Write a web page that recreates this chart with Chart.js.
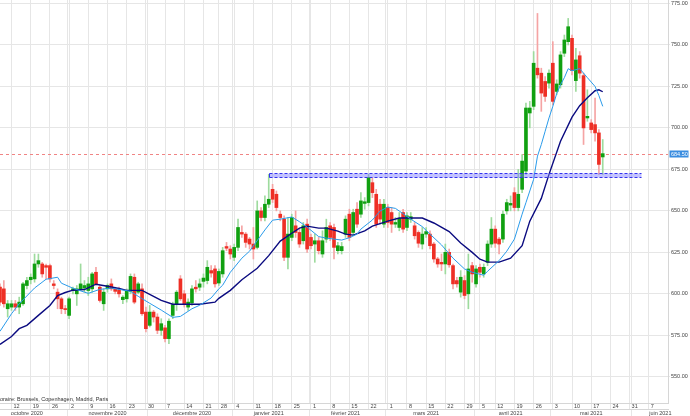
<!DOCTYPE html>
<html>
<head>
<meta charset="utf-8">
<script src="https://cdn.jsdelivr.net/npm/chart.js@4.4.0/dist/chart.umd.min.js"></script>
<style>
  html, body { margin: 0; padding: 0; background: #fff; }
  #wrap { width: 690px; height: 416px; }
</style>
</head>
<body>
<div id="wrap"><canvas id="chart"></canvas></div>
<script>
// séances (jours de bourse) du 7 oct. 2020 au 14 juin 2021
var firstDay = "2020-10-07";
var lastDay = "2021-06-14";
var holidays = ["2020-12-25", "2021-01-01", "2021-04-02", "2021-04-05"];

// cours journaliers (ouverture, plus haut, plus bas, clôture)
var opens = [
  604, 603, 591, 592, 594, 592, 594, 605, 608.5, 609,
  618, 618, 617, 617, 606, 601, 597, 591, 587, 602,
  600, 603, 603.5, 602, 603, 613, 604, 594, 603, 606,
  603, 602.5, 596.5, 597, 601.5, 610, 601, 603, 589, 581,
  589, 586, 578, 579.5, 573, 587, 594, 609, 600, 592,
  594.5, 604, 604, 607.5, 608, 614, 615, 606.5, 612, 628.5,
  627, 622, 628, 637, 636, 633, 630, 628, 650, 646,
  654, 663, 660, 648, 645, 622, 634, 641, 637, 632,
  642, 634, 630, 632, 624, 633, 641, 640, 626, 626,
  636, 648, 637, 651, 648, 654.5, 655, 667, 660, 654,
  642, 652, 649, 642, 640, 649, 640, 645, 641, 637,
  630, 636, 636, 630, 621, 619, 618, 625, 617, 608,
  601, 608, 600, 617, 606, 616, 612, 619, 630, 639,
  633, 633, 650, 653.5, 661, 652, 663, 674, 709, 713,
  736, 733, 728, 727, 739, 722, 726, 745, 752, 754,
  728.5, 743.5, 731.5, 706, 703, 702, 697, 682.5
];
var highs = [
  606, 608, 596, 596, 596, 598, 607, 610, 612, 624,
  624, 619, 618, 618, 608, 603, 598, 593, 598, 604,
  605, 618, 608, 610, 613, 616, 605, 603, 606, 609,
  604, 604, 599, 603, 612, 612, 607, 606, 592, 593,
  590, 588, 585, 581, 585, 595, 602, 611, 602, 597,
  605, 608, 609, 612, 620, 617, 617, 615, 628, 631,
  629, 630, 645, 641, 637, 634, 640, 656, 652, 659,
  672, 666, 662, 650, 647, 646, 648, 650, 639, 643,
  645, 636, 636, 634, 638, 645, 643, 642, 631, 631,
  647, 651, 651, 655, 661, 658, 672, 670, 663, 657,
  657, 654, 652, 646, 649, 651, 649, 649, 643, 638,
  640, 640, 638, 631, 622, 624, 630, 627, 618, 610,
  614, 611, 624, 619, 617, 618, 618, 632, 646, 641,
  634, 650, 657, 659, 664, 675, 684, 715, 716, 746,
  769, 736, 731, 735, 752, 729, 746, 756, 766, 756,
  748, 746, 733, 723, 705, 718, 699, 693
];
var lows = [
  593, 592, 586, 590, 590, 588, 593, 603, 606, 607,
  616, 610, 609, 607, 603, 591, 588, 588, 585, 600,
  593, 602, 601, 599, 601, 605, 595, 590, 601, 602,
  600, 598, 594, 595, 600, 594, 600, 587, 577, 580,
  583, 576, 575, 571, 570, 585, 590, 596, 592, 590,
  593, 601, 602, 604, 606, 610, 604, 605, 610, 626,
  621, 620, 626, 634, 628, 627, 621, 627, 644, 644,
  652, 655, 650, 644, 620, 615, 632, 634, 628, 630,
  625, 627, 619, 624, 622, 631, 632, 621, 624, 624,
  634, 632, 635, 640, 646, 651, 653, 658, 640, 642,
  640, 640, 637, 640, 638, 637, 638, 643, 633, 628,
  627, 634, 627, 619, 616, 614, 612, 616, 603, 604,
  598, 597, 591, 607, 604, 610, 610, 617, 628, 628,
  624, 631, 648, 650, 650, 650, 661, 672, 700, 711,
  730, 710, 716, 724, 714, 720, 724, 743, 750, 732,
  722, 730, 690, 704, 697, 692, 672, 672
];
var closes = [
  595, 594, 594, 594, 592, 595, 606, 608, 610, 618,
  620, 612, 616, 609, 605, 597, 591, 590.5, 597, 603,
  603, 606, 605, 606, 612, 606, 596, 601, 605, 603,
  601.5, 600, 598, 601.5, 610.5, 595, 606, 588, 579, 589,
  586, 578, 582, 573, 583.5, 593.5, 601, 597, 594, 595,
  603, 603, 606, 609.5, 616, 612.5, 606, 613.5, 626, 627.5,
  624, 628, 640, 636, 631, 630, 627, 650, 646, 654,
  657, 657, 652, 646, 622, 636, 646, 637, 630, 641,
  627, 629, 632, 626, 632, 640, 634, 628, 629, 628.5,
  645, 634, 649, 642, 656, 655.5, 670, 661, 642, 645,
  654, 643, 642, 643, 645.5, 639, 647, 646.5, 635, 630.5,
  636, 637.5, 629, 621, 618, 618, 625, 617.5, 606, 606,
  610, 599, 615, 612, 615, 613, 616, 630, 639, 630.5,
  630, 648, 655, 654.5, 652, 660, 680, 712, 712, 739,
  732, 721, 719, 733, 716, 726.5, 744, 753, 761, 734.5,
  741, 733, 700, 707, 699, 697, 678, 684.5
];

// moyennes mobiles : [n° de séance, valeur]
var maCourte = [
  [0, 577.4], [3, 588], [5, 594], [9, 603.5], [12, 608.8], [15, 610], [16, 606.4], [19, 603.4],
  [22, 601], [23, 600.3], [26, 602.7], [29, 603.4], [31, 602.7], [34, 601.5], [36, 598.5], [39, 594.3],
  [42, 590.2], [45, 585.8], [47, 586.4], [50, 591], [52, 593.1], [55, 597.5], [57, 603], [58, 605.2],
  [60, 613], [63, 621.5], [65, 625.7], [69, 638.5], [71, 644.4], [73, 645], [76, 646.3], [78, 643.5],
  [80, 640.2], [83, 634.5], [85, 633.6], [89, 632.4], [91, 633.8], [93, 636], [94, 639], [97, 644.5],
  [99, 649.9], [101, 652.3], [103, 651.5], [104, 649.9], [107, 645], [110, 640.5], [112, 636], [115, 629.5],
  [118, 621.5], [121, 615], [123, 613], [126, 611.2], [127, 613.6], [130, 620], [132, 625.7], [134, 633],
  [136, 648], [137, 655], [139, 669], [140, 683], [141, 690], [142, 698], [143, 706], [144, 713],
  [145, 720.6], [146, 726], [147, 730.3], [148, 735.7], [149, 734.5], [151, 735.7], [153, 730.3], [155, 725],
  [156, 719.5], [157, 713]
];
var maLongue = [
  [0, 569.5], [3, 574.3], [5, 579], [7, 581], [10, 587], [13, 593], [15, 599], [17, 600.8],
  [19, 602.2], [22, 602.6], [25, 605.8], [28, 604.6], [31, 603.2], [33, 602.1], [37, 602.1], [40, 598.5],
  [42, 596], [45, 593.7], [49, 593.7], [52, 593.7], [56, 595], [57, 597.3], [60, 602.1], [63, 608.5],
  [67, 615.4], [70, 623], [73, 631.8], [76, 636.5], [78, 639.6], [80, 640.8], [83, 639.6], [85, 639.6],
  [88, 637.8], [90, 636], [92, 635.4], [95, 638], [97, 640.8], [101, 643.8], [104, 645.7], [110, 645.7],
  [113, 642.7], [117, 637.5], [120, 630.6], [123, 625], [125, 620.9], [127, 619.1], [130, 619.1], [133, 621.5],
  [136, 629], [138, 643.8], [141, 657.5], [143, 672], [146, 692], [149, 706.5], [151, 713.4], [153, 718.2],
  [155, 722.4], [156, 723], [157, 721.8]
];

// zone de support et dernier cours
var zoneFrom = "2021-01-15";
var zoneTo = "2021-06-03";
var zoneLow = 670.2;
var zoneHigh = 672.6;
var lastPrice = closes[closes.length - 1];

// étiquettes de l'axe du temps
var weekLabels = [
  ["2020-10-12", "12"], ["2020-10-19", "19"], ["2020-10-26", "26"], ["2020-11-02", "2"],
  ["2020-11-09", "9"], ["2020-11-16", "16"], ["2020-11-23", "23"], ["2020-11-30", "30"],
  ["2020-12-07", "7"], ["2020-12-14", "14"], ["2020-12-21", "21"], ["2020-12-28", "28"],
  ["2021-01-04", "4"], ["2021-01-11", "11"], ["2021-01-18", "18"], ["2021-01-25", "25"],
  ["2021-02-01", "1"], ["2021-02-08", "8"], ["2021-02-15", "15"], ["2021-02-22", "22"],
  ["2021-03-01", "1"], ["2021-03-08", "8"], ["2021-03-15", "15"], ["2021-03-22", "22"],
  ["2021-03-29", "29"], ["2021-04-06", "5"], ["2021-04-12", "12"], ["2021-04-19", "19"],
  ["2021-04-26", "26"], ["2021-05-03", "3"], ["2021-05-10", "10"], ["2021-05-17", "17"],
  ["2021-05-24", "24"], ["2021-05-31", "31"], ["2021-06-07", "7"]
];
var monthLabels = [
  ["2020-10-16", "octobre 2020"], ["2020-11-16", "novembre 2020"], ["2020-12-16", "décembre 2020"],
  ["2021-01-15", "janvier 2021"], ["2021-02-12", "février 2021"], ["2021-03-15", "mars 2021"],
  ["2021-04-16", "avril 2021"], ["2021-05-17", "mai 2021"], ["2021-06-10", "juin 2021"]
];
var monthStarts = ["2020-11-02", "2020-12-01", "2021-01-04", "2021-02-01", "2021-03-01",
  "2021-04-01", "2021-05-03", "2021-06-01"];
var note = "Horaire: Brussels, Copenhagen, Madrid, Paris";

function tradingDays(from, to) {
  var out = [];
  var d = new Date(from + "T12:00:00Z");
  var end = new Date(to + "T12:00:00Z");
  while (d <= end) {
    var s = d.toISOString().slice(0, 10);
    var wd = d.getUTCDay();
    if (wd !== 0 && wd !== 6 && holidays.indexOf(s) < 0) out.push(s);
    d.setUTCDate(d.getUTCDate() + 1);
  }
  return out;
}
var days = tradingDays(firstDay, lastDay);

var weekText = {}, monthText = {}, monthIdx = {};
weekLabels.forEach(function (w) { weekText[days.indexOf(w[0])] = w[1]; });
monthLabels.forEach(function (m) { monthText[days.indexOf(m[0])] = m[1]; });
monthStarts.forEach(function (m) { monthIdx[days.indexOf(m)] = true; });

var upBody = "#10a010", upWick = "#9edb9e", downBody = "#ee2f25", downWick = "#f5a4a4";
var gridColor = "#e6e6e6";
var none = "rgba(0,0,0,0)";
var font = { family: "'Liberation Sans', Arial, sans-serif", size: 5.5 };

var bodies = [], wicks = [], bodyColors = [], wickColors = [];
days.forEach(function (d, i) {
  if (i < closes.length) {
    var up = closes[i] >= opens[i];
    bodies.push([opens[i], closes[i]]);
    wicks.push([lows[i], highs[i]]);
    bodyColors.push(up ? upBody : downBody);
    wickColors.push(up ? upWick : downWick);
  } else {
    bodies.push(null); wicks.push(null);
    bodyColors.push(none); wickColors.push(none);
  }
});
function toPoints(list) {
  return list.map(function (p) { return { x: days[p[0]], y: p[1] }; });
}

var decor = {
  id: "decor",
  beforeDatasetsDraw: function (chart) {
    var ctx = chart.ctx, a = chart.chartArea;
    var py = Math.round(chart.scales.y.getPixelForValue(lastPrice)) + 0.5;
    ctx.save();
    ctx.strokeStyle = "#f08484";
    ctx.lineWidth = 1;
    ctx.setLineDash([3, 3]);
    ctx.beginPath(); ctx.moveTo(a.left, py); ctx.lineTo(a.right, py); ctx.stroke();
    ctx.restore();
  },
  afterDatasetsDraw: function (chart) {
    var ctx = chart.ctx, x = chart.scales.x, y = chart.scales.y;
    var x0 = Math.round(x.getPixelForValue(days.indexOf(zoneFrom))) + 0.5;
    var x1 = Math.round(x.getPixelForValue(days.indexOf(zoneTo))) + 0.5;
    var yTop = Math.round(y.getPixelForValue(zoneHigh)) + 0.5;
    var yBot = Math.round(y.getPixelForValue(zoneLow)) + 0.5;
    ctx.save();
    ctx.fillStyle = "rgba(120,120,255,0.45)";
    ctx.fillRect(x0, yTop, x1 - x0, yBot - yTop);
    ctx.strokeStyle = "#3434f0";
    ctx.lineWidth = 1;
    ctx.setLineDash([3, 2]);
    ctx.beginPath();
    ctx.moveTo(x0, yTop); ctx.lineTo(x1, yTop);
    ctx.moveTo(x0, yBot); ctx.lineTo(x1, yBot);
    ctx.stroke();
    ctx.setLineDash([]);
    ctx.beginPath(); ctx.moveTo(x0, yTop); ctx.lineTo(x0, yBot); ctx.stroke();
    ctx.restore();
  },
  afterDraw: function (chart) {
    var ctx = chart.ctx, a = chart.chartArea;
    var py = chart.scales.y.getPixelForValue(lastPrice);
    ctx.save();
    ctx.fillStyle = "#3a8de0";
    ctx.fillRect(a.right + 1.5, Math.round(py) - 3.5, 19, 7);
    ctx.fillStyle = "#ffffff";
    ctx.font = "5.5px 'Liberation Sans', Arial, sans-serif";
    ctx.textBaseline = "middle";
    ctx.fillText(lastPrice.toFixed(2), a.right + 3, Math.round(py));
    ctx.fillStyle = "#333333";
    ctx.textBaseline = "bottom";
    ctx.fillText(note, -4, a.bottom - 1);
    ctx.restore();
  }
};

var ctx = document.getElementById("chart").getContext("2d");
var chart = new Chart(ctx, {
  type: "bar",
  data: {
    labels: days,
    datasets: [
      {
        type: "line",
        label: "MM courte",
        data: toPoints(maCourte),
        borderColor: "#2a9bea",
        borderWidth: 1,
        pointRadius: 0,
        spanGaps: true,
      },
      {
        type: "line",
        label: "MM longue",
        data: toPoints(maLongue),
        borderColor: "#0b0b80",
        borderWidth: 1.4,
        pointRadius: 0,
        spanGaps: true,
      },
      {
        label: "corps",
        data: bodies,
        backgroundColor: bodyColors,
        barThickness: 3,
        minBarLength: 1,
        grouped: false,
      },
      {
        label: "mèches",
        data: wicks,
        backgroundColor: wickColors,
        barThickness: 1,
        grouped: false,
      },
    ],
  },
  options: {
    responsive: true,
    maintainAspectRatio: false,
    animation: false,
    layout: { padding: 0 },
    plugins: { legend: { display: false }, tooltip: { enabled: false } },
    scales: {
      x: {
        type: "category",
        position: "bottom",
        offset: false,
        weight: 0,
        grid: {
          offset: false,
          tickLength: 6.5,
          color: function (c) { return weekText[c.index] ? gridColor : none; },
        },
        border: { display: true, color: "#d6d6d6" },
        ticks: {
          autoSkip: false, maxRotation: 0, minRotation: 0,
          align: "start", labelOffset: 2, padding: -6,
          font: font, color: "#444",
          callback: function (v, i) { return weekText[i] || ""; },
        },
        afterFit: function (s) { s.height = 6.5; s.paddingLeft = 0; s.paddingRight = 0; },
      },
      xm: {
        type: "category",
        position: "bottom",
        offset: false,
        weight: 1,
        grid: {
          offset: true,
          tickLength: 6.5,
          color: function (c) { return monthIdx[c.index] ? gridColor : none; },
        },
        border: { display: true, color: "#d6d6d6" },
        ticks: {
          autoSkip: false, maxRotation: 0, minRotation: 0, padding: -6.3,
          font: font, color: "#444",
          callback: function (v, i) { return monthText[i] || ""; },
        },
        afterFit: function (s) { s.height = 6.5; s.paddingLeft = 0; s.paddingRight = 0; },
      },
      y: {
        position: "right",
        min: 534.2,
        max: 777.1,
        grid: { color: gridColor, tickLength: 2 },
        border: { display: true, color: "#d6d6d6" },
        ticks: {
          stepSize: 25, includeBounds: false, padding: 1,
          font: font, color: "#444",
          callback: function (v) { return v.toFixed(2); },
        },
        afterFit: function (s) { s.width = 22; s.paddingTop = 0; s.paddingBottom = 0; },
      },
    },
  },
  plugins: [decor],
});
</script>
</body>
</html>
